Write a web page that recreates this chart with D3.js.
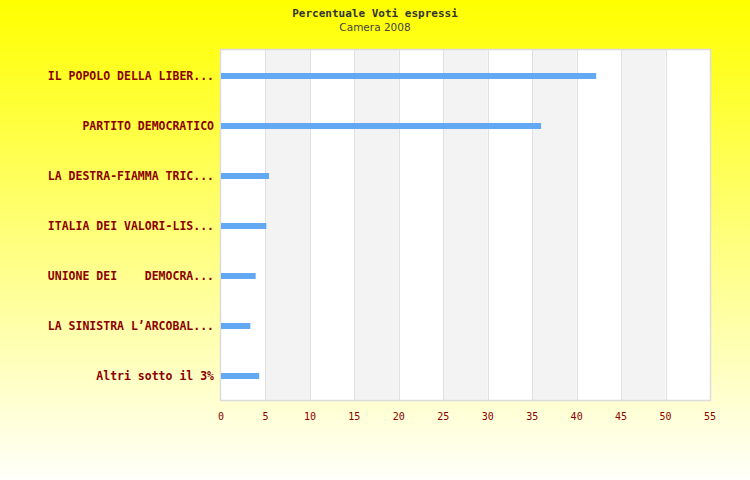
<!DOCTYPE html>
<html>
<head>
<meta charset="utf-8">
<script src="https://cdn.jsdelivr.net/npm/d3@7"></script>
<style>
  body { margin: 0; padding: 0; }
  svg { display: block; }
</style>
</head>
<body>
<svg id="chart"></svg>
<script>
// data
var partiti = [
    'IL POPOLO DELLA LIBER...',
    'PARTITO DEMOCRATICO',
    'LA DESTRA-FIAMMA TRIC...',
    'ITALIA DEI VALORI-LIS...',
    'UNIONE DEI    DEMOCRA...',
    'LA SINISTRA L\u2019ARCOBAL...',
    'Altri sotto il 3%'
];
var percentuali = [42.2, 36.0, 5.4, 5.1, 3.9, 3.3, 4.3];
var tickValues = [0, 5, 10, 15, 20, 25, 30, 35, 40, 45, 50, 55];

var width = 750,
    height = 480,
    plotLeft = 221,
    plotRight = 710,
    plotTop = 50,
    plotBottom = 400;

var svg = d3.select('#chart')
    .attr('width', width)
    .attr('height', height);

var grad = svg.append('defs').append('linearGradient')
    .attr('id', 'bg')
    .attr('x1', 0).attr('y1', 0)
    .attr('x2', 0).attr('y2', 1);
grad.append('stop').attr('offset', '0%').attr('stop-color', '#ffff00');
grad.append('stop').attr('offset', '100%').attr('stop-color', '#fffffa');

svg.append('rect')
    .attr('width', width)
    .attr('height', height)
    .attr('fill', 'url(#bg)');

var x = d3.scaleLinear().domain([0, 55]).range([plotLeft, plotRight]);
var y = d3.scaleBand().domain(partiti).range([plotTop, plotBottom]);

// plot background
svg.append('rect')
    .attr('x', plotLeft).attr('y', plotTop)
    .attr('width', plotRight - plotLeft).attr('height', plotBottom - plotTop)
    .attr('fill', '#ffffff');

// alternating grey bands
svg.selectAll('.band')
    .data(tickValues.slice(0, -1).filter(function (d, i) { return i % 2 === 1; }))
    .enter().append('rect')
    .attr('class', 'band')
    .attr('x', function (d) { return x(d); })
    .attr('y', plotTop)
    .attr('width', function (d) { return x(d + 5) - x(d); })
    .attr('height', plotBottom - plotTop)
    .attr('fill', '#f3f3f3');

// grid lines
svg.selectAll('.grid')
    .data(tickValues.slice(1, -1))
    .enter().append('line')
    .attr('class', 'grid')
    .attr('x1', function (d) { return Math.round(x(d)) + 0.5; })
    .attr('x2', function (d) { return Math.round(x(d)) + 0.5; })
    .attr('y1', plotTop).attr('y2', plotBottom)
    .attr('stroke', '#e0e0e0');

svg.append('rect')
    .attr('x', plotLeft - 0.5).attr('y', plotTop - 0.5)
    .attr('width', plotRight - plotLeft + 1).attr('height', plotBottom - plotTop + 1)
    .attr('fill', 'none')
    .attr('stroke', '#dcdcdc')
    .attr('stroke-width', 1.5);

// bars
svg.selectAll('.bar')
    .data(percentuali)
    .enter().append('rect')
    .attr('class', 'bar')
    .attr('x', x(0))
    .attr('y', function (d, i) { return y(partiti[i]) + y.bandwidth() / 2 - 2; })
    .attr('width', function (d) { return x(d) - x(0); })
    .attr('height', 6)
    .attr('fill', '#63a8f2');

// category labels
svg.selectAll('.lbl')
    .data(partiti)
    .enter().append('text')
    .attr('class', 'lbl')
    .attr('x', 214)
    .attr('y', function (d) { return y(d) + y.bandwidth() / 2 + 5; })
    .attr('text-anchor', 'end')
    .attr('fill', '#8b0000')
    .style('font-family', 'DejaVu Sans Mono, monospace')
    .style('font-size', '11.5px')
    .style('font-weight', 'bold')
    .style('white-space', 'pre')
    .text(function (d) { return d; });

// x axis tick labels
svg.selectAll('.tick-lbl')
    .data(tickValues)
    .enter().append('text')
    .attr('class', 'tick-lbl')
    .attr('x', function (d) { return x(d); })
    .attr('y', 420)
    .attr('text-anchor', 'middle')
    .attr('fill', '#8b0000')
    .style('font-family', 'DejaVu Sans Mono, monospace')
    .style('font-size', '10px')
    .text(function (d) { return d; });

// titles
svg.append('text')
    .attr('x', 375).attr('y', 17)
    .attr('text-anchor', 'middle')
    .attr('fill', '#333333')
    .style('font-family', 'DejaVu Sans Mono, monospace')
    .style('font-size', '11px')
    .style('font-weight', 'bold')
    .text('Percentuale Voti espressi');

svg.append('text')
    .attr('x', 375).attr('y', 31)
    .attr('text-anchor', 'middle')
    .attr('fill', '#444444')
    .style('font-family', 'DejaVu Sans, sans-serif')
    .style('font-size', '10.5px')
    .text('Camera 2008');
</script>
</body>
</html>
